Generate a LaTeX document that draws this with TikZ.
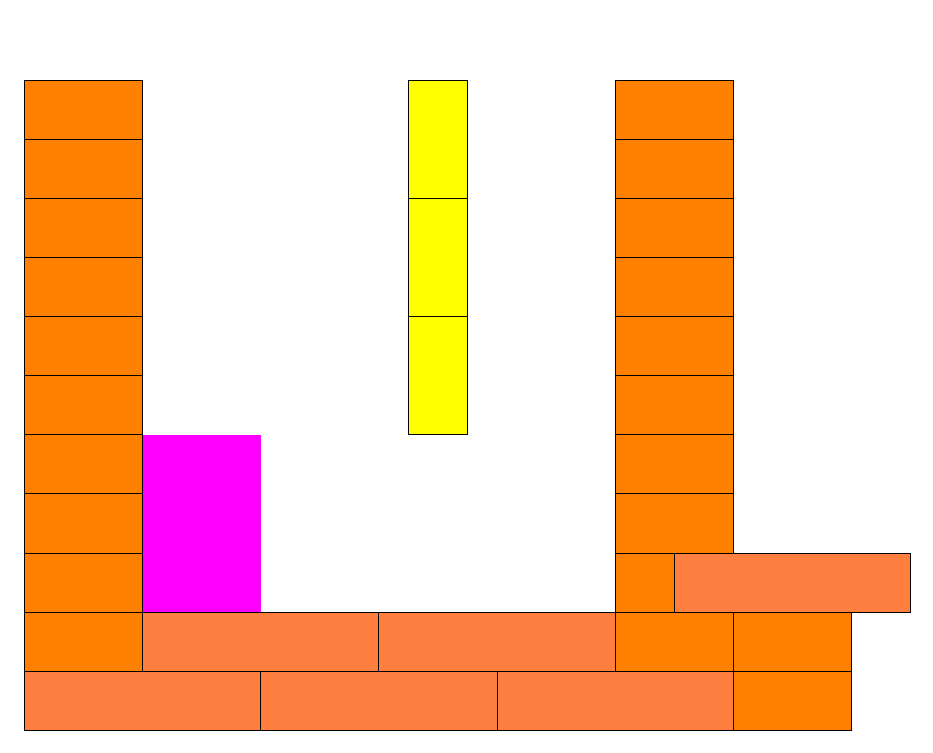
\documentclass[tikz,border=0pt]{standalone}
\definecolor{brick}{RGB}{255,128,0}
\definecolor{salmon}{RGB}{255,127,64}
\definecolor{gold}{RGB}{255,255,0}
\definecolor{pink}{RGB}{255,0,255}
\tikzset{
  cell/.style={draw=black, line width=0.8pt},
  orangecell/.style={cell, fill=brick},
  salmoncell/.style={cell, fill=salmon},
  yellowcell/.style={cell, fill=gold},
  magentacell/.style={fill=pink}
}
\begin{document}
\begin{tikzpicture}[x=44.31pt,y=-44.31pt]
\useasboundingbox ({-24.4/59.08},{-80.4/59.08}) rectangle ({908.6/59.08},{672.6/59.08});
% magenta block
\fill[magentacell] (2,6) rectangle (4,9);
% left column
\foreach \k in {0,...,9} {
  \draw[orangecell] (0,\k) rectangle (2,\k+1);
}
% right column
\foreach \k in {0,...,7} {
  \draw[orangecell] (10,\k) rectangle (12,\k+1);
}
% yellow column
\foreach \k in {0,2,4} {
  \draw[yellowcell] (6.5,\k) rectangle (7.5,\k+2);
}
% row 8 right side
\draw[orangecell] (10,8) rectangle (11,9);
\draw[salmoncell] (11,8) rectangle (15,9);
% row 9
\draw[salmoncell] (2,9) rectangle (6,10);
\draw[salmoncell] (6,9) rectangle (10,10);
\draw[orangecell] (10,9) rectangle (12,10);
\draw[orangecell] (12,9) rectangle (14,10);
% row 10
\draw[salmoncell] (0,10) rectangle (4,11);
\draw[salmoncell] (4,10) rectangle (8,11);
\draw[salmoncell] (8,10) rectangle (12,11);
\draw[orangecell] (12,10) rectangle (14,11);
\end{tikzpicture}
\end{document}
